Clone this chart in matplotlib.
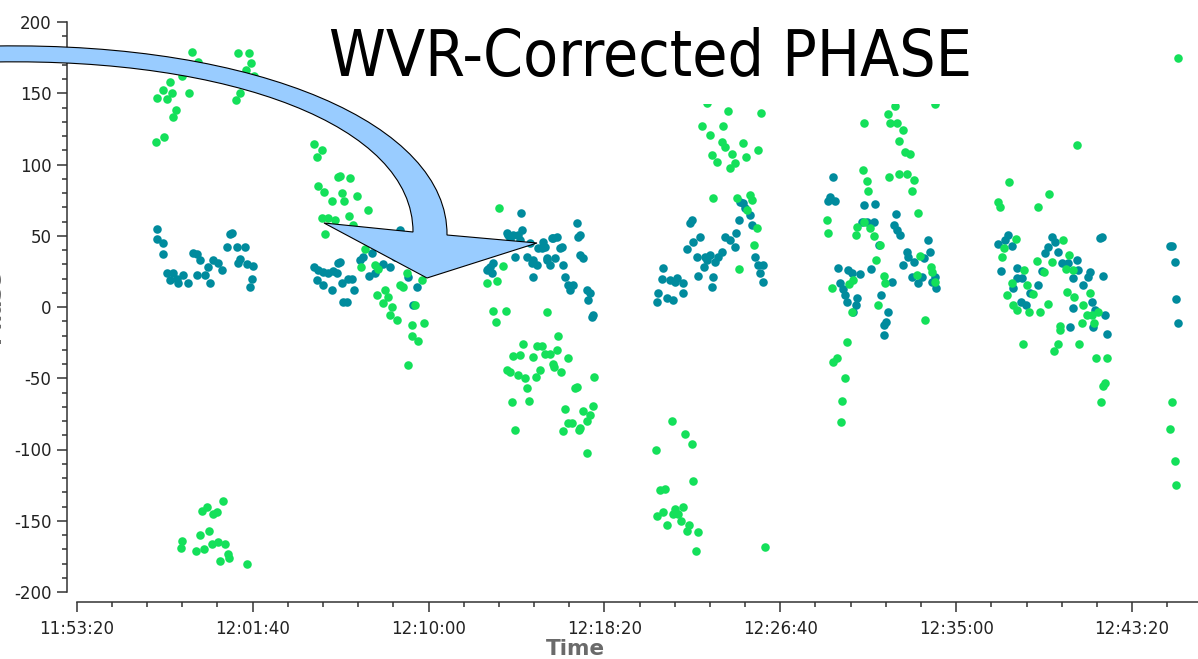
import numpy as np
import matplotlib
matplotlib.use("Agg")
import matplotlib.pyplot as plt
from matplotlib.path import Path
from matplotlib.patches import PathPatch, Rectangle
from matplotlib.transforms import Affine2D
from matplotlib.ticker import MultipleLocator, FuncFormatter

plt.rcParams["axes.unicode_minus"] = False

# time in seconds after 11:53:20, phase in degrees
t0 = 11 * 3600 + 53 * 60 + 20

teal_pts = [
    # scan 1
    (227, 55), (227, 48), (244, 45), (244, 37), (256, 24), (273, 24), (284, 20), (264, 19),
    (287, 17), (301, 22.5), (316, 17), (330, 38), (341, 37), (350, 33), (341, 22.5), (364, 22.5),
    (372, 28), (378, 17), (387, 33), (401, 31), (412, 26), (435, 51), (441, 52), (426, 42),
    (455, 42), (478, 42), (463, 34), (483, 30), (500, 29), (458, 31), (498, 20), (492, 14),
    # scan 2
    (675, 28), (686, 26), (700, 24.6), (714, 24), (728, 25), (742, 31), (748, 31.6), (739, 24),
    (683, 19), (700, 15.5), (725, 12), (754, 17), (771, 19.7), (782, 19.7), (788, 12), (756, 3.5),
    (768, 3.5), (805, 33), (813, 35), (839, 38), (856, 28), (847, 24), (890, 28), (919, 54),
    (941, 21), (967, 14), (955, 1.4), (830, 22), (870, 30), (905, 35), (925, 40),
    # scan 3
    (1175, 28), (1180, 24), (1170, 27), (1167, 26), (1183, 31), (1224, 52), (1226, 50.6), (1240, 50.6),
    (1255, 50.6), (1260, 47), (1264, 66), (1267, 54), (1232, 47), (1246, 35), (1280, 35), (1294, 31),
    (1309, 29.5), (1297, 21), (1326, 45.7), (1323, 41.4), (1288, 45), (1311, 41.4), (1331, 42), (1351, 48.5),
    (1354, 48.5), (1365, 49), (1374, 41.4), (1380, 42), (1337, 34.4), (1346, 29.5), (1359, 34.4), (1383, 29.5),
    (1388, 21), (1397, 15.5), (1403, 12), (1411, 15.5), (1423, 59), (1425, 49), (1431, 50.6), (1431, 36.5),
    (1440, 34.4), (1451, 12), (1460, 10), (1454, 5), (1468, -5.6), (1465, -7), (1297, 33), (1337, 33),
    # scan 4
    (1749, 61), (1743, 59), (1772, 49), (1752, 45.7), (1735, 40.7), (1667, 27.4), (1664, 19.7), (1686, 19),
    (1706, 20.4), (1723, 17), (1701, 17.6), (1652, 10), (1650, 3.5), (1678, 6.3), (1695, 5), (1723, 10),
    (1766, 21.8), (1763, 35), (1786, 35), (1792, 33), (1783, 28), (1809, 21), (1806, 14), (1800, 36.5),
    (1823, 35), (1815, 31.6), (1835, 38.6), (1843, 49), (1857, 47), (1871, 42), (1874, 52), (1883, 61),
    (1886, 73.8), (1894, 73), (1900, 69.5), (1914, 64.6), (1920, 57.6), (1928, 35), (1936, 29.5), (1951, 29.5),
    (1942, 24), (1951, 17.6),
    # scan 5
    (2150, 91), (2141, 77), (2136, 74.5), (2156, 74.5), (2238, 71.6), (2269, 72), (2329, 65), (2232, 60),
    (2247, 59.7), (2266, 60), (2323, 57.6), (2332, 54), (2340, 50.6), (2281, 43.5), (2420, 47), (2425, 38.6),
    (2360, 38.6), (2363, 35), (2380, 31.6), (2349, 29.5), (2409, 34.4), (2258, 26.7), (2164, 27.4), (2192, 26),
    (2204, 24), (2227, 23), (2170, 17), (2178, 12.6), (2184, 8.4), (2190, 3.5), (2218, 6.3), (2215, 1.4),
    (2207, -3.5), (2286, 8.4), (2317, 17.6), (2374, 21), (2391, 17), (2403, 21), (2431, 17.6), (2440, 21),
    (2443, 13.3), (2306, -3.5), (2300, -10.5), (2295, -12.6), (2295, -19.7),
    # scan 6
    (2619, 44), (2639, 47), (2647, 50.6), (2659, 42.8), (2628, 25), (2673, 27.4), (2673, 20.4), (2687, 20.4),
    (2662, 13.3), (2684, 3.5), (2699, 1.4), (2710, 9.8), (2733, 15.5), (2744, 25), (2753, 38), (2761, 42),
    (2773, 49), (2781, 45.7), (2790, 38.6), (2801, 31), (2818, 31), (2843, 33), (2846, 26), (2832, 20.4),
    (2861, 15.5), (2881, 24.6), (2875, 21), (2918, 21.8), (2886, 3.5), (2895, -2), (2923, -5.6), (2909, 48.5),
    (2915, 49), (2832, -0.7), (2824, -14), (2889, -14), (2929, -19),
    # scan 7
    (3108, 42.8), (3114, 42.8), (3122, 31.6), (3125, 5.6), (3131, -11),
]

green_pts = [
    # scan 1
    (328, 179), (345, 172), (265, 158), (245, 152), (271, 150), (228, 147), (257, 146), (319, 150),
    (282, 138), (274, 133), (225, 116), (248, 119), (299, 162), (458, 178), (490, 178), (495, 171),
    (481, 166), (504, 162), (453, 145), (464, 150),
    (416, -136), (370, -140.5), (356, -143), (387, -145), (398, -144), (376, -157), (350, -160), (299, -164),
    (296, -169), (339, -171), (361, -170), (384, -166), (401, -165), (421, -166), (430, -173.5), (433, -176),
    (407, -178), (483, -180),
    # scan 2
    (675, 114.5), (697, 110), (683, 105), (686, 85), (703, 81), (725, 74.5), (742, 91), (748, 92),
    (776, 90.6), (754, 80), (759, 74.5), (796, 78), (827, 68), (773, 64), (714, 62.5), (697, 62.5),
    (734, 61), (706, 51), (785, 57.6), (819, 41), (808, 28), (847, 29.5), (856, 27), (853, 8.4),
    (876, 12), (884, 7), (870, 3), (896, 0), (890, -5.6), (910, -9), (919, 15.5), (927, 14),
    (938, 24), (961, 1.4), (981, 19), (953, -12.6), (987, -11), (953, -20), (969, -24), (941, -41),
    # scan 3
    (1199, 69.5), (1167, 17), (1194, 18), (1211, 29), (1183, -2.8), (1191, -10.5), (1220, -2.8), (1337, -3.5),
    (1269, -26), (1309, -27.4), (1323, -27.4), (1240, -34.4), (1260, -33.7), (1297, -35), (1331, -33), (1346, -33),
    (1368, -20.4), (1365, -30), (1397, -35.8), (1223, -44), (1232, -45.7), (1254, -47.8), (1274, -50), (1306, -49),
    (1317, -44), (1354, -40), (1357, -42), (1377, -45.7), (1280, -57), (1237, -66.7), (1286, -66), (1246, -86.4),
    (1416, -57), (1422, -56), (1470, -49), (1388, -71.6), (1439, -73), (1467, -69.5), (1459, -76), (1397, -81.5),
    (1408, -81.5), (1450, -80), (1431, -85), (1428, -86.4), (1383, -87), (1450, -102.5),
    # scan 4
    (1792, 143), (1852, 137.7), (1945, 136), (1777, 127), (1837, 127), (1800, 121), (1834, 116), (1843, 112),
    (1894, 115), (1937, 110), (1863, 107.5), (1806, 107), (1820, 102), (1903, 105), (1871, 101), (1857, 97.6),
    (1809, 76.6), (1877, 76.6), (1914, 78.7), (1920, 75), (1905, 68), (1934, 55.5), (1925, 43.5), (1883, 26.7),
    (1693, -80), (1729, -89), (1749, -96), (1647, -100), (1752, -122), (1658, -128.5), (1672, -128), (1650, -147),
    (1667, -144), (1701, -142), (1723, -140), (1695, -145), (1709, -145), (1718, -150), (1678, -153), (1741, -153),
    (1735, -157), (1766, -158), (1760, -171), (1956, -168.6),
    # scan 5
    (2238, 129), (2306, 135.6), (2326, 141), (2312, 129), (2332, 129), (2349, 124), (2337, 116.6), (2354, 109),
    (2369, 107.5), (2440, 142.6), (2235, 96), (2247, 88.5), (2250, 81.5), (2309, 91), (2337, 93.4), (2360, 93.4),
    (2380, 89), (2374, 81.5), (2391, 66), (2133, 61), (2136, 52), (2218, 56), (2215, 50.6), (2238, 59.7),
    (2255, 55.5), (2266, 50), (2283, 43.5), (2272, 33), (2397, 35.8), (2295, 21.8), (2297, 17), (2207, 19),
    (2195, 16), (2147, 13.3), (2278, 1.4), (2411, -9), (2428, 28), (2431, 24.6), (2440, 17.6), (2389, 22.5),
    (2204, -3.5), (2190, -24.6), (2150, -38.6), (2161, -35.8), (2184, -50), (2175, -66), (2173, -80.8),
    # scan 6
    (2650, 87.8), (2619, 73.8), (2625, 70), (2733, 70), (2764, 79.4), (2843, 113.8), (2670, 47.8), (2636, 41.4),
    (2631, 35), (2804, 47), (2730, 32.3), (2750, 24.6), (2772, 31.6), (2821, 36.5), (2812, 26.7), (2832, 26),
    (2693, 26), (2702, 15.5), (2659, 17), (2645, 8.4), (2719, 9), (2815, 10.5), (2835, 7), (2881, 9.8),
    (2861, 1.4), (2886, -5.6), (2872, -5.6), (2903, -3.5), (2662, 1.4), (2673, -2), (2707, -3.5), (2739, -3.5),
    (2761, 2), (2795, -13.3), (2858, -11), (2892, -11), (2690, -26), (2778, -31), (2790, -26), (2850, -26),
    (2898, -35.8), (2929, -35.8), (2918, -55.5), (2923, -53.4), (2912, -66.7), (2795, -16),
    # scan 7
    (3131, 175), (3114, -66.7), (3108, -85.7), (3122, -108), (3125, -125),
]

teal = np.array(teal_pts)
green = np.array(green_pts)

W, H = 1198, 659
fig = plt.figure(figsize=(W / 100, H / 100), dpi=100)
ax = fig.add_axes([76.7 / W, 1 - 592 / H, 1 - 76.7 / W, 570 / H])

ax.scatter(teal[:, 0], teal[:, 1], s=38, color="#008b9d", linewidths=0, zorder=3)
ax.scatter(green[:, 0], green[:, 1], s=38, color="#14e05a", linewidths=0, zorder=3)

ax.set_xlim(0, (W - 76.7) / 0.3518)
ax.set_ylim(-200, 200)

for s in ["top", "right"]:
    ax.spines[s].set_visible(False)
for s in ["left", "bottom"]:
    ax.spines[s].set_position(("outward", 7.2))
    ax.spines[s].set_color("#333333")
    ax.spines[s].set_linewidth(1.1)

ax.yaxis.set_major_locator(MultipleLocator(50))
ax.yaxis.set_minor_locator(MultipleLocator(10))
ax.xaxis.set_major_locator(MultipleLocator(500))
ax.xaxis.set_minor_locator(MultipleLocator(100))


def fmt_time(x, pos):
    s = int(round(t0 + x))
    return "%02d:%02d:%02d" % (s // 3600, (s // 60) % 60, s % 60)


ax.xaxis.set_major_formatter(FuncFormatter(fmt_time))
ax.tick_params(which="major", length=7, width=1.1, color="#333333",
               labelsize=12, labelcolor="#222222", pad=4)
ax.tick_params(axis="x", which="major", pad=6)
ax.tick_params(which="minor", length=3.6, width=1.1, color="#333333")

fig.text(575 / W, 1 - 649 / H, "Time", ha="center", va="center",
         fontsize=15.5, fontweight="bold", color="#6a6a6a")
# y label sits mostly outside the cropped frame, as in the source
fig.text(4 / W, 1 - 307 / H, "Phase", rotation=90, ha="right", va="center",
         fontsize=15.5, fontweight="bold", color="#6a6a6a")

# pasted title box
px = Affine2D().scale(1 / W, -1 / H).translate(0, 1) + fig.transFigure
fig.add_artist(Rectangle((305, 0), 685, 104, facecolor="white", edgecolor="none",
                         transform=px, zorder=5))
fig.text(650 / W, 1 - 58 / H, "WVR-Corrected PHASE", ha="center", va="center",
         fontsize=46, fontstretch="condensed", color="black", zorder=6)

# curved callout arrow
verts = [(-5, 46), (260, 42), (448, 125), (447, 235),
         (537, 243), (427, 278), (324, 223), (413, 232),
         (413, 125), (230, 58), (-5, 62), (-5, 46)]
codes = [Path.MOVETO, Path.CURVE4, Path.CURVE4, Path.CURVE4,
         Path.LINETO, Path.LINETO, Path.LINETO, Path.LINETO,
         Path.CURVE4, Path.CURVE4, Path.CURVE4, Path.CLOSEPOLY]
fig.add_artist(PathPatch(Path(verts, codes), facecolor="#99ccff", edgecolor="black",
                         linewidth=0.8, transform=px, zorder=7))

fig.savefig("out.png", dpi=100)
